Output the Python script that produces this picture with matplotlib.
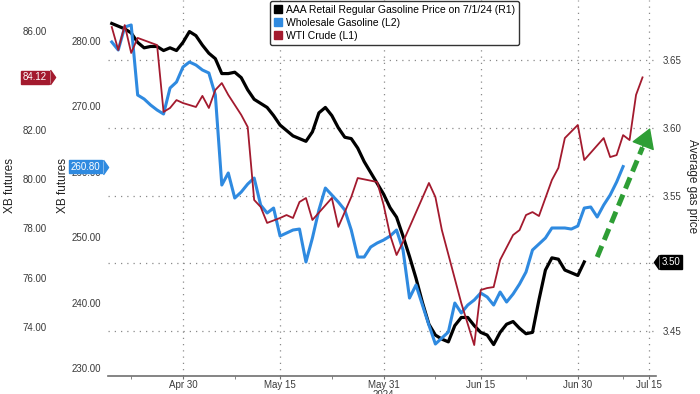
import numpy as np
import matplotlib

matplotlib.use("Agg")
import matplotlib.pyplot as plt
import matplotlib.dates as mdates
from matplotlib.patches import Patch
from matplotlib.ticker import FixedLocator, FormatStrFormatter

plt.rcParams["font.family"] = ["Liberation Sans", "DejaVu Sans"]

BASE = np.datetime64("2024-04-30")

# AAA retail gasoline, $/gal (right axis), daily from Apr 19
AAA_DAYS = list(range(-11, 63))
AAA_PRICE = [3.677, 3.675, 3.673, 3.670, 3.663, 3.659, 3.660, 3.660, 3.657, 3.659, 3.657,
             3.663, 3.671, 3.668, 3.661, 3.655, 3.651, 3.640, 3.640, 3.641, 3.637,
             3.628, 3.621, 3.618, 3.615, 3.609, 3.602, 3.598, 3.594, 3.592, 3.590,
             3.597, 3.611, 3.615, 3.609, 3.600, 3.593, 3.592, 3.585, 3.575, 3.567,
             3.559, 3.551, 3.541, 3.534, 3.520, 3.505, 3.489, 3.471, 3.455, 3.447,
             3.444, 3.442, 3.454, 3.460, 3.460, 3.454, 3.449, 3.447, 3.440, 3.449,
             3.455, 3.457, 3.452, 3.448, 3.449, 3.473, 3.495, 3.504, 3.503, 3.495,
             3.493, 3.491, 3.501]

# wholesale gasoline (XB futures, c/gal, inner left axis)
XB_DAYS = list(range(-11, 69))
XB_PRICE = [279.85, 278.62, 282.14, 282.45, 271.74, 271.13, 270.21, 269.45, 268.84, 272.81,
            273.73, 276.02, 276.79, 276.33, 275.57, 275.11, 271.74, 257.98, 259.82, 255.99,
            256.91, 258.13, 259.05, 254.92, 253.70, 254.46, 250.18, 250.64, 251.10, 251.25,
            246.21, 249.88, 254.16, 257.52, 256.45, 255.38, 254.16, 251.10, 246.97, 246.97,
            248.50, 249.11, 249.57, 250.18, 251.10, 248.04, 240.70, 242.69, 239.63, 236.57,
            233.67, 234.59, 235.50, 239.94, 238.41, 239.63, 240.40, 241.47, 240.86, 239.63,
            241.62, 240.09, 241.31, 242.84, 244.68, 248.04, 248.96, 249.88, 251.41, 251.41,
            251.41, 251.25, 251.71, 254.46, 254.62, 253.09, 254.92, 256.45, 258.44, 260.80]

# WTI crude, $/bbl (outer left axis)
WTI_DAYS = [-11, -10, -9, -8, -7, -4, -3, -2, -1, 0, 2, 3, 4, 5, 6, 7, 9, 10, 11, 12,
            13, 15, 16, 17, 18, 19, 20, 23, 24, 26, 27, 30, 31, 32, 33, 34, 38, 39, 40, 43,
            45, 46, 47, 48, 49, 51, 52, 53, 54, 55, 57, 58, 59, 61, 62, 65, 66, 67, 68, 69,
            70, 71]
WTI_PRICE = [86.16, 85.23, 86.24, 85.11, 85.72, 85.43, 82.72, 82.88, 83.20, 83.08,
             82.92, 83.37, 82.88, 83.61, 83.89, 83.41, 82.60, 82.11, 79.15, 78.87,
             78.22, 78.42, 78.54, 78.42, 79.07, 79.23, 78.34, 79.23, 78.06, 79.27,
             80.04, 79.88, 78.95, 77.73, 76.92, 77.45, 79.84, 79.27, 77.93, 74.97,
             73.27, 75.50, 75.58, 75.62, 76.72, 77.73, 77.93, 78.54, 78.66, 78.50,
             79.96, 80.45, 81.66, 82.19, 80.77, 81.66, 80.89, 80.97, 81.78, 81.58,
             83.41, 84.12]

LABELS = ["AAA Retail Regular Gasoline Price on 7/1/24 (R1)",
          "Wholesale Gasoline (L2)", "WTI Crude (L1)"]
TICK_DATES = ["2024-04-30", "2024-05-15", "2024-05-31", "2024-06-15", "2024-06-30", "2024-07-11"]
TICK_TEXT = ["Apr 30", "May 15", "May 31", "Jun 15", "Jun 30", "Jul 15"]
MINOR_DATES = ["2024-04-22", "2024-05-08", "2024-05-23", "2024-06-08", "2024-06-22", "2024-07-07"]

BLACK, BLUE, RED, GREEN = "#000000", "#2f8ae0", "#a31a2e", "#2e9e35"
TXT = "#3a3a3a"


def dates(days):
    return BASE + np.array(days).astype("timedelta64[D]")


fig = plt.figure(figsize=(7, 3.94), dpi=100)
ax = fig.add_axes([108 / 700, 18 / 394, 548 / 700, 376 / 394])
ax_xb = ax.twinx()
ax_wti = ax.twinx()
ax.yaxis.tick_right()

ax.plot(dates(AAA_DAYS), AAA_PRICE, color=BLACK, lw=2.3, solid_joinstyle="round")
ax_xb.plot(dates(XB_DAYS), XB_PRICE, color=BLUE, lw=2.2, solid_joinstyle="round")
ax_wti.plot(dates(WTI_DAYS), WTI_PRICE, color=RED, lw=1.3)

ax.set_xlim(BASE - np.timedelta64(278, "h"), BASE + np.timedelta64(1754, "h"))
ax.set_ylim(3.4168, 3.6943)
ax_xb.set_ylim(228.78, 286.27)
ax_wti.set_ylim(72.015, 87.257)

ax.set_yticks([3.45, 3.50, 3.55, 3.60, 3.65])
ax_xb.set_yticks([230, 240, 250, 260, 270, 280])
ax_wti.set_yticks([74, 76, 78, 80, 82, 84, 86])
for a in (ax, ax_xb, ax_wti):
    a.yaxis.set_major_formatter(FormatStrFormatter("%.2f"))
    a.tick_params(axis="y", length=0, pad=5, labelsize=7, labelcolor=TXT)
    for s in a.spines.values():
        s.set_visible(False)
ax_xb.yaxis.tick_left()
ax_wti.yaxis.tick_left()
ax_wti.spines["left"].set_position(("outward", 39))

ax.spines["bottom"].set_visible(True)
ax.spines["bottom"].set_color("#707070")
ax.spines["bottom"].set_linewidth(1.2)
ax.xaxis.set_major_locator(FixedLocator(mdates.date2num(np.array(TICK_DATES, dtype="datetime64[D]"))))
ax.xaxis.set_minor_locator(FixedLocator(mdates.date2num(np.array(MINOR_DATES, dtype="datetime64[D]"))))
ax.set_xticklabels(TICK_TEXT)
ax.tick_params(axis="x", which="major", length=2.5, color="#707070", pad=0.5, labelsize=7, labelcolor=TXT)
ax.tick_params(axis="x", which="minor", length=2.5, color="#707070")
ax.grid(True, which="major", ls=(0, (1, 4)), color="#8a8a8a", lw=0.9)

fig.text(383 / 700, 4 / 394, "2024", ha="center", va="top", fontsize=7, color=TXT)

fig.text(10 / 700, 0.53, "XB futures", rotation=90, ha="center", va="center", fontsize=8.5, color="#222")
fig.text(63 / 700, 0.53, "XB futures", rotation=90, ha="center", va="center", fontsize=8.5, color="#222")
fig.text(692 / 700, 0.528, "Average gas price", rotation=270, ha="center", va="center",
         fontsize=8.5, color="#222")


def tag(a, y, text, color, x_txt, x_tip, right=True):
    tr = a.get_yaxis_transform()
    a.text(x_txt, y, text, transform=tr, ha="right" if right else "left", va="center",
           fontsize=7, color="white", zorder=10, clip_on=False,
           bbox=dict(boxstyle="square,pad=0.18", fc=color, ec=color))
    verts = [(0, -1), (0.7, 0), (0, 1)] if right else [(0, -1), (-0.7, 0), (0, 1)]
    a.plot([x_tip], [y], marker=verts, ms=10.5, color=color, transform=tr,
           clip_on=False, zorder=10, lw=0)


tag(ax_wti, WTI_PRICE[-1], f"{WTI_PRICE[-1]:.2f}", RED, (47 - 108) / 548, (49.5 - 108) / 548)
tag(ax_xb, XB_PRICE[-1], f"{XB_PRICE[-1]:.2f}", BLUE, (100 - 108) / 548, (102.5 - 108) / 548)
tag(ax, AAA_PRICE[-1], f"{AAA_PRICE[-1]:.2f}", BLACK, (662 - 108) / 548, (659.5 - 108) / 548,
    right=False)

# green dashed arrow
t0, v0 = BASE + np.timedelta64(64 * 24, "h"), 3.5046
t1, v1 = BASE + np.timedelta64(int(71.0 * 24), "h"), 3.5855
t2, v2 = BASE + np.timedelta64(int(72.2 * 24), "h"), 3.5998
ax.plot([t0, t1], [v0, v1], color=GREEN, lw=3.6, dashes=(2.4, 1.3), solid_capstyle="butt",
        clip_on=False, zorder=5)
ax.annotate("", xy=(t2, v2), xytext=(t1, v1),
            arrowprops=dict(arrowstyle="-|>,head_length=0.9,head_width=0.55", color=GREEN,
                            lw=1, mutation_scale=14, shrinkA=0, shrinkB=0),
            annotation_clip=False, zorder=5)

handles = [Patch(fc=c, ec=c) for c in (BLACK, BLUE, RED)]
leg = ax_wti.legend(handles, LABELS, loc="upper left", bbox_to_anchor=(0.296, 0.997),
                    fontsize=7.5, handlelength=0.8, handleheight=0.8, handletextpad=0.4,
                    borderpad=0.35, labelspacing=0.3, frameon=True, fancybox=True,
                    framealpha=1, borderaxespad=0)
leg.get_frame().set_edgecolor("#333333")
leg.get_frame().set_linewidth(1.0)
leg.set_zorder(20)

fig.savefig("out.png", dpi=100)
